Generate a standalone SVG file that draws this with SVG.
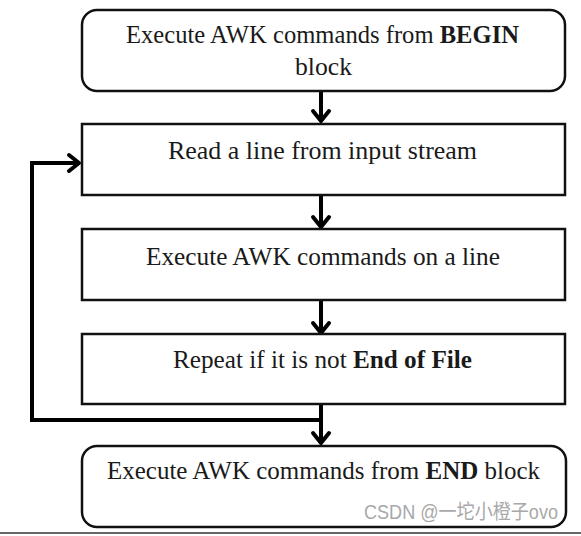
<svg xmlns="http://www.w3.org/2000/svg" width="581" height="536" viewBox="0 0 581 536">
<style>
.box{fill:#fff;stroke:#111;stroke-width:2.5}
.t{font-family:"Liberation Serif","DejaVu Serif",serif;font-size:24.5px;fill:#1a1a1a}
.b{font-weight:bold}
.conn{fill:none;stroke:#000;stroke-width:4;stroke-linejoin:miter}
.head{fill:none;stroke:#000;stroke-width:4;stroke-linecap:round;stroke-linejoin:round}
.wm{font-family:"Liberation Sans","Noto Sans CJK SC",sans-serif;font-size:20px;fill:#a8a8a8}
</style>
<rect width="581" height="536" fill="#fff"/>
<g id="connectors">
<line class="conn" x1="321" y1="92" x2="321" y2="121"/>
<polyline class="head" points="313,111 321,121 329,111"/>
<line class="conn" x1="321" y1="196" x2="321" y2="227"/>
<polyline class="head" points="313,217 321,227 329,217"/>
<line class="conn" x1="321" y1="301" x2="321" y2="333"/>
<polyline class="head" points="313,323 321,333 329,323"/>
<line class="conn" x1="321" y1="405" x2="321" y2="443"/>
<polyline class="head" points="313,433 321,443 329,433"/>
<polyline class="conn" points="321,420 32,420 32,163 78,163"/>
<polyline class="head" points="69,155 79,163 69,171"/>
</g>
<g id="begin">
<rect class="box" x="82" y="10" width="483" height="81" rx="15"/>
<text class="t" x="126" y="43" textLength="393" lengthAdjust="spacingAndGlyphs">Execute AWK commands from <tspan class="b">BEGIN</tspan></text>
<text class="t" x="295" y="75" textLength="57" lengthAdjust="spacingAndGlyphs">block</text>
</g>
<g id="read">
<rect class="box" x="82" y="124" width="483" height="71"/>
<text class="t" x="168" y="159" textLength="309" lengthAdjust="spacingAndGlyphs">Read a line from input stream</text>
</g>
<g id="exec">
<rect class="box" x="82" y="229" width="483" height="71"/>
<text class="t" x="146" y="265" textLength="354" lengthAdjust="spacingAndGlyphs">Execute AWK commands on a line</text>
</g>
<g id="repeat">
<rect class="box" x="82" y="334" width="483" height="70"/>
<text class="t" x="173" y="368" textLength="299" lengthAdjust="spacingAndGlyphs">Repeat if it is not <tspan class="b">End of File</tspan></text>
</g>
<g id="end">
<rect class="box" x="82" y="446" width="484" height="81" rx="15"/>
<text class="t" x="107" y="479" textLength="433" lengthAdjust="spacingAndGlyphs">Execute AWK commands from <tspan class="b">END</tspan> block</text>
</g>
<text class="wm" x="364" y="519" textLength="194" lengthAdjust="spacingAndGlyphs">CSDN @一坨小橙子ovo</text>
<line x1="0" y1="533" x2="581" y2="533" stroke="#333" stroke-width="1.5"/>
</svg>
